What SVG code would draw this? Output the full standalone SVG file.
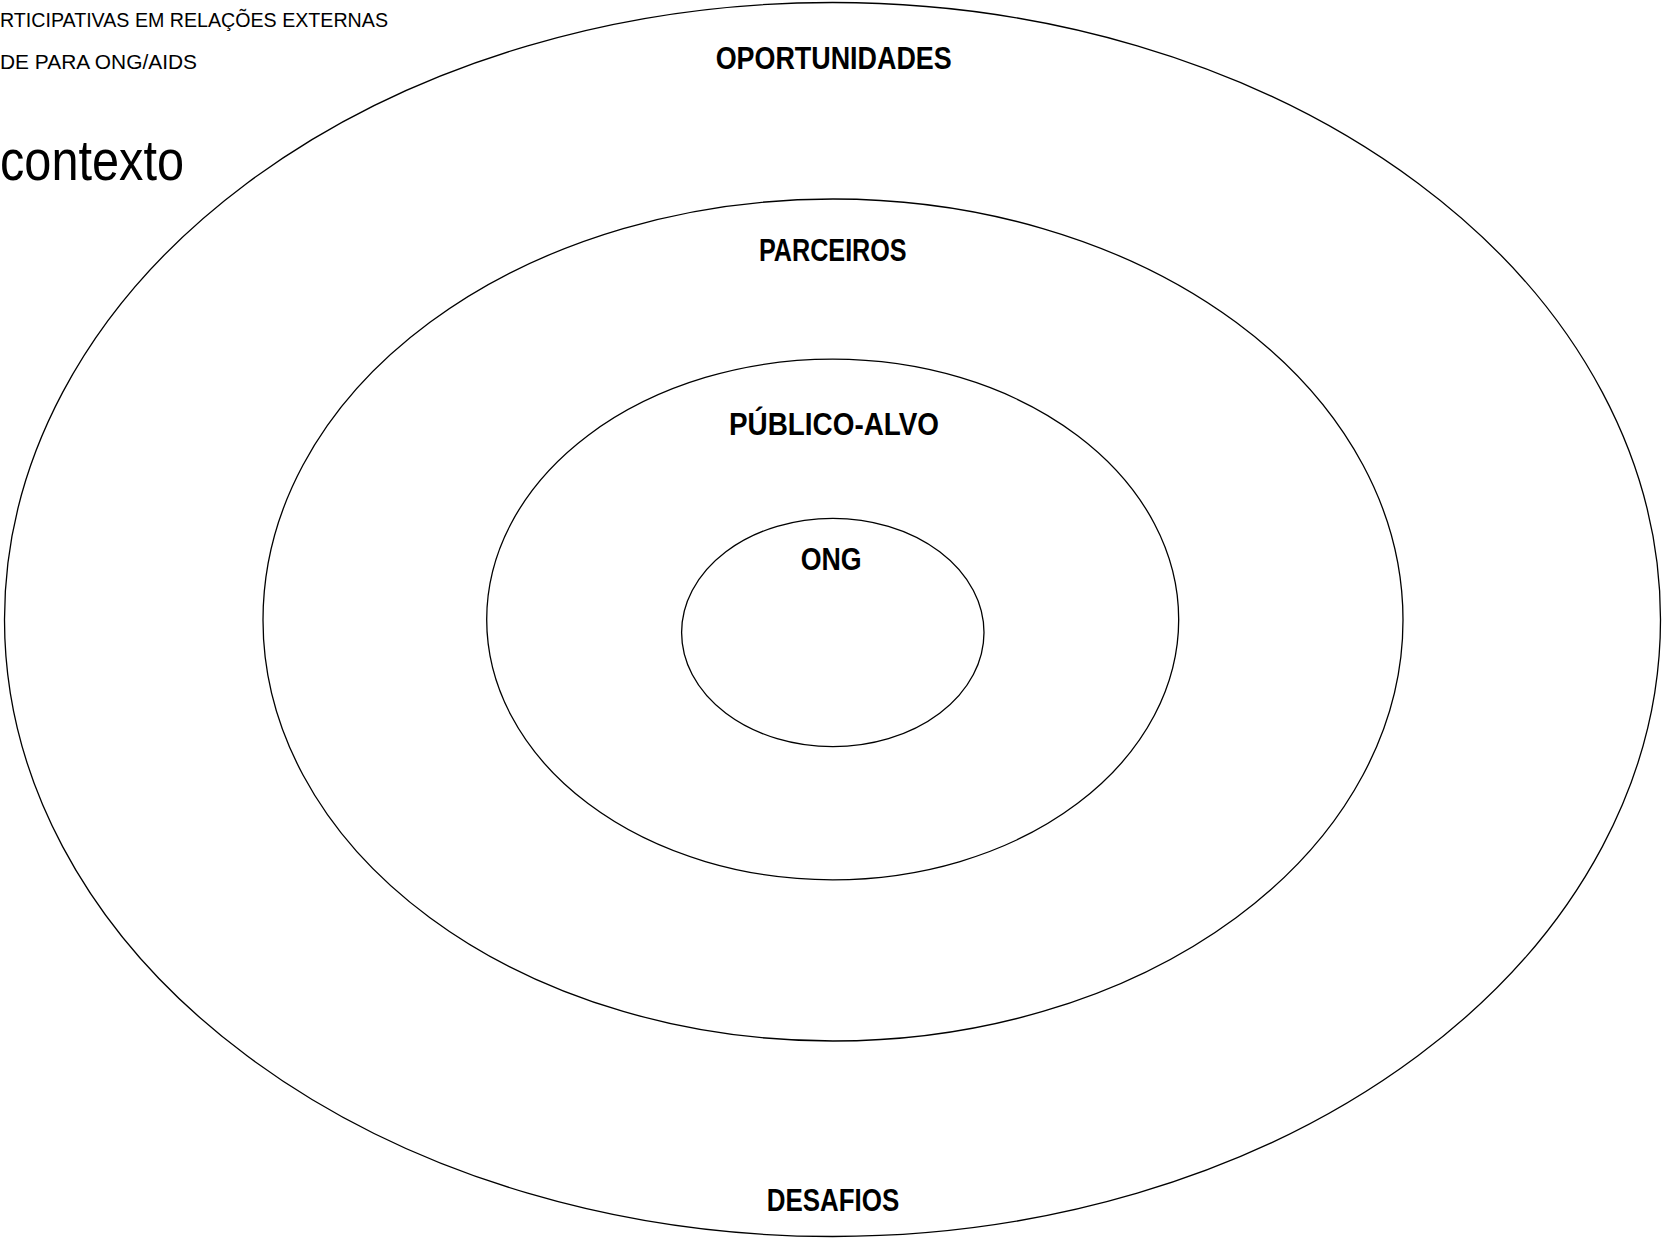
<svg xmlns="http://www.w3.org/2000/svg" width="1662" height="1238" viewBox="0 0 1662 1238">
<style>
.ring{fill:none;stroke:#000;stroke-width:1.3}
.lbl{font-family:"Liberation Sans","DejaVu Sans",sans-serif;font-weight:bold;font-size:31px;fill:#000;text-anchor:middle}
.hdr{font-family:"Liberation Sans","DejaVu Sans",sans-serif;font-size:19.5px;fill:#000}
.ctx{font-family:"Liberation Sans","DejaVu Sans",sans-serif;font-size:57px;fill:#000}
</style>
<rect width="1662" height="1238" fill="#fff"/>
<g id="header">
<text class="hdr" x="0" y="26.7" textLength="388" lengthAdjust="spacingAndGlyphs">RTICIPATIVAS EM RELAÇÕES EXTERNAS</text>
<text class="hdr" x="0" y="69" textLength="197" lengthAdjust="spacingAndGlyphs">DE PARA ONG/AIDS</text>
<text class="ctx" x="0" y="180" textLength="184" lengthAdjust="spacingAndGlyphs">contexto</text>
</g>
<g id="oportunidades">
<ellipse class="ring" cx="832.5" cy="619.5" rx="828" ry="617"/>
<text class="lbl" x="833.7" y="69.3" textLength="236" lengthAdjust="spacingAndGlyphs">OPORTUNIDADES</text>
<text class="lbl" x="833" y="1210.7" textLength="132.6" lengthAdjust="spacingAndGlyphs">DESAFIOS</text>
</g>
<g id="parceiros">
<ellipse class="ring" cx="833" cy="620" rx="570" ry="421"/>
<text class="lbl" x="832.8" y="261" textLength="147.7" lengthAdjust="spacingAndGlyphs">PARCEIROS</text>
</g>
<g id="publico-alvo">
<ellipse class="ring" cx="832.7" cy="619.5" rx="346" ry="260.3"/>
<text class="lbl" x="834" y="435" textLength="210" lengthAdjust="spacingAndGlyphs">PÚBLICO-ALVO</text>
</g>
<g id="ong">
<ellipse class="ring" cx="832.8" cy="632.5" rx="151.2" ry="114.2"/>
<text class="lbl" x="831.2" y="570" textLength="61" lengthAdjust="spacingAndGlyphs">ONG</text>
</g>
<g id="connectors"/>
</svg>
